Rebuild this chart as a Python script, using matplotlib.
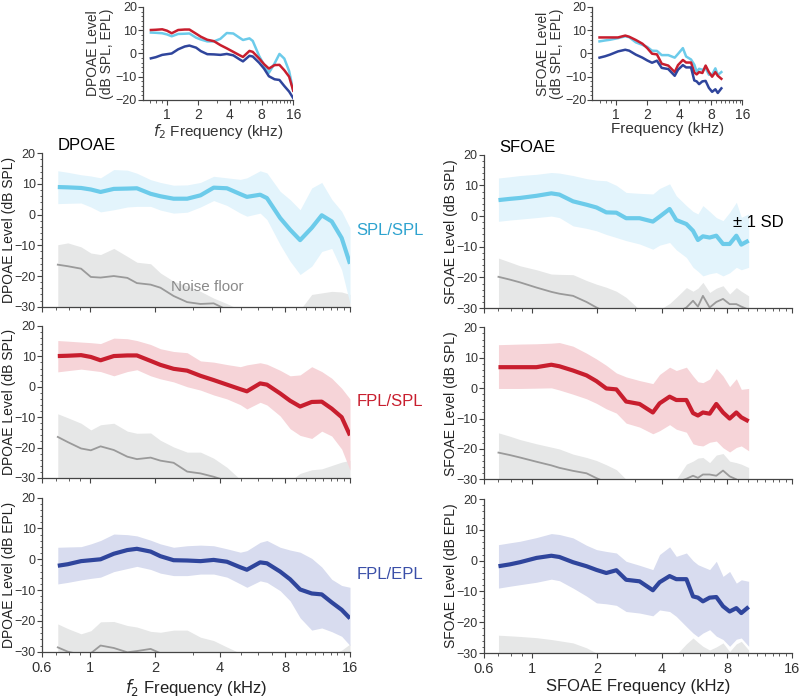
import numpy as np
import matplotlib
matplotlib.use("Agg")
import matplotlib.pyplot as plt
from matplotlib.ticker import FixedLocator, NullFormatter, MultipleLocator

plt.rcParams["font.family"] = ["Liberation Sans", "DejaVu Sans"]

# frequency grids (kHz)
F_DP = [0.71, 0.79, 0.91, 1.01, 1.12, 1.29, 1.49, 1.65, 1.91, 2.12, 2.44, 2.82, 3.25, 3.74,
        4.31, 4.97, 5.33, 6.14, 6.60, 7.60, 8.45, 9.40, 10.64, 11.84, 13.17, 14.64, 16.0]
F_SF = [0.70, 0.79, 0.88, 1.05, 1.23, 1.34, 1.55, 1.79, 1.99, 2.21, 2.46, 2.73, 3.15, 3.63,
        3.90, 4.34, 4.66, 5.19, 5.57, 5.87, 6.19, 6.65, 7.14, 7.67, 8.23, 8.84, 9.32, 10.08]

# DPOAE, SPL/SPL
dp_spl_mean = [9.0, 8.9, 8.7, 8.2, 7.4, 8.4, 8.5, 8.6, 6.8, 6.0, 5.2, 5.2, 6.3, 8.8,
               8.6, 6.7, 5.8, 6.5, 5.4, -1.1, -4.9, -8.3, -4.3, -0.2, -2.2, -7.6, -16.0]
dp_spl_hi = [14.3, 13.8, 13.0, 12.6, 12.0, 14.7, 14.5, 13.5, 11.4, 10.5, 9.6, 9.7, 10.5, 12.5,
             12.0, 11.5, 12.0, 14.3, 13.6, 7.6, 4.9, 1.6, 8.7, 10.5, 5.0, 1.1, -4.3]
dp_spl_lo = [3.6, 3.7, 3.8, 2.5, 0.9, 1.6, 2.5, 2.7, 2.7, 1.5, 0.5, 0.8, 2.5, 4.6,
             3.0, 0.5, -0.5, 0.5, -1.6, -9.8, -15.2, -19.5, -16.8, -12.0, -11.0, -18.0, -29.0]
dp_spl_nf_hi = [-9.8, -9.2, -10.5, -12.5, -13.0, -11.0, -13.6, -15.5, -16.0, -19.0, -21.7, -23.2, -25.0, -27.2,
                -29.0, -31.0, -32.0, -33.0, -34.0, -34.0, -33.0, -31.0, -26.0, -25.5, -25.0, -25.2, -26.0]
dp_spl_nf = [-16.3, -16.8, -17.6, -20.3, -20.5, -20.0, -20.6, -22.3, -22.8, -23.8, -26.5, -28.5, -29.1, -28.9,
             -31.0, -33.0, -34.0, -35.0, -35.0, -35.0, -35.0, -34.0, -32.0, -31.0, -31.0, -31.0, -31.0]

# DPOAE, FPL/SPL
dp_fpl_mean = [10.1, 10.2, 10.4, 9.8, 8.7, 10.1, 10.3, 10.3, 8.5, 7.2, 5.9, 5.3, 3.6, 2.2,
               0.7, -0.8, -1.5, 1.1, 0.7, -2.2, -4.6, -6.5, -5.0, -4.9, -7.2, -10.0, -16.0]
dp_fpl_hi = [15.2, 15.0, 14.7, 14.5, 14.2, 16.0, 15.8, 15.2, 13.9, 12.5, 11.6, 11.2, 8.5, 8.1,
             7.3, 6.6, 7.2, 7.9, 7.4, 5.4, 3.6, 3.9, 6.6, 5.0, 2.8, -0.5, -4.0]
dp_fpl_lo = [4.9, 5.3, 5.8, 5.4, 5.0, 3.6, 5.0, 5.6, 3.6, 2.6, 1.6, 0.0, -1.1, -2.7,
             -4.0, -5.9, -7.3, -5.1, -6.0, -9.6, -13.8, -16.0, -17.0, -14.6, -16.2, -20.5, -27.4]
dp_fpl_nf_hi = [-8.9, -10.2, -12.0, -14.2, -12.5, -12.0, -14.6, -15.3, -15.2, -17.6, -19.8, -21.5, -21.5, -23.5,
                -26.5, -30.5, -32.0, -33.0, -33.0, -32.0, -31.0, -28.5, -27.3, -27.0, -25.9, -24.8, -24.2]
dp_fpl_nf = [-16.5, -18.2, -20.3, -20.9, -19.6, -20.8, -23.0, -23.8, -23.3, -24.3, -25.0, -27.9, -28.5, -29.6,
             -31.0, -33.0, -33.0, -33.0, -33.0, -33.0, -33.0, -33.0, -33.0, -33.0, -33.0, -33.0, -33.0]

# DPOAE, FPL/EPL
dp_epl_mean = [-2.1, -1.6, -0.6, -0.3, 0.0, 1.8, 3.0, 3.4, 2.5, 1.0, -0.3, -0.4, -0.6, -0.2,
               -0.8, -2.6, -3.4, -1.0, -1.3, -4.0, -6.5, -9.8, -11.1, -11.4, -14.0, -16.4, -19.2]
dp_epl_hi = [3.9, 4.0, 4.1, 5.0, 6.1, 8.2, 8.0, 7.6, 6.2, 5.0, 3.9, 4.4, 4.6, 4.4,
             3.4, 2.3, 2.8, 5.5, 6.1, 3.9, 3.0, 2.3, 0.3, -2.5, -6.5, -8.5, -9.1]
dp_epl_lo = [-8.0, -7.5, -6.7, -6.2, -5.8, -4.0, -3.0, -2.3, -3.3, -4.5, -5.3, -5.3, -4.8, -4.8,
             -5.8, -8.0, -9.1, -7.0, -7.5, -10.2, -13.5, -19.0, -23.0, -22.3, -23.5, -25.0, -28.0]
dp_epl_nf_hi = [-21.0, -22.5, -24.2, -23.2, -20.3, -20.2, -21.5, -22.0, -23.4, -23.7, -23.0, -23.0, -25.3, -26.4,
                -28.5, -30.5, -32.0, -33.0, -33.0, -33.0, -33.0, -33.0, -33.0, -32.0, -31.0, -29.5, -27.5]
dp_epl_nf = [-28.6, -30.0, -31.0, -30.5, -28.0, -28.8, -30.2, -29.8, -29.1, -30.5, -32.0, -33.0, -33.0, -33.0,
             -33.0, -33.0, -33.0, -33.0, -33.0, -33.0, -33.0, -33.0, -33.0, -33.0, -33.0, -33.0, -33.0]

# SFOAE, SPL/SPL
sf_spl_mean = [5.2, 5.6, 5.9, 6.6, 7.4, 7.0, 4.8, 3.7, 2.8, 1.2, 1.1, -0.7, -0.7, -1.8,
               -0.2, 2.3, -1.3, -2.6, -4.8, -7.8, -6.6, -7.0, -6.4, -9.1, -9.1, -6.4, -9.3, -8.0]
sf_spl_hi = [12.4, 12.8, 13.2, 13.6, 14.2, 14.0, 13.2, 12.2, 11.7, 11.5, 10.0, 7.7, 7.4, 7.2,
             9.0, 10.5, 6.6, 3.4, 1.5, 0.7, 3.4, 1.5, -0.5, -1.5, 1.2, 4.5, -0.4, 0.7]
sf_spl_lo = [-1.7, -1.3, -1.0, -0.5, 0.0, -0.5, -3.2, -4.0, -4.8, -6.0, -7.0, -8.0, -9.1, -10.8,
             -9.5, -8.6, -11.0, -13.5, -16.7, -18.0, -19.5, -18.8, -18.4, -19.5, -18.5, -16.7, -17.5, -16.7]
sf_spl_nf_hi = [-13.7, -15.0, -16.2, -17.5, -18.9, -19.0, -19.1, -21.0, -22.2, -23.2, -24.5, -26.5, -30.5, -31.5,
                -30.5, -28.5, -26.5, -23.3, -24.5, -23.5, -21.6, -24.9, -23.5, -22.7, -25.4, -23.3, -24.5, -26.0]
sf_spl_nf = [-19.8, -20.7, -21.6, -23.3, -24.7, -25.3, -26.0, -28.0, -29.8, -31.4, -33.0, -34.0, -35.0, -35.0,
             -34.0, -33.0, -31.5, -29.8, -27.6, -29.5, -26.0, -29.8, -28.0, -27.0, -28.7, -28.7, -29.5, -30.5]

# SFOAE, FPL/SPL
sf_fpl_mean = [6.9, 6.9, 6.9, 6.9, 7.7, 7.2, 5.8, 4.2, 2.3, -0.1, -0.4, -4.4, -5.2, -8.0,
               -5.0, -2.8, -3.9, -3.9, -8.2, -9.0, -8.0, -8.4, -5.2, -8.0, -10.0, -8.0, -9.6, -10.9]
sf_fpl_hi = [14.3, 14.4, 14.5, 14.6, 14.8, 15.0, 13.8, 11.5, 9.6, 7.5, 5.0, 3.7, 2.5, 1.5,
             4.5, 6.9, 5.8, 6.9, 4.0, 2.1, 1.8, 3.0, 6.5, 4.0, 0.5, 3.1, -0.4, -0.1]
sf_fpl_lo = [-0.1, -0.1, -0.1, 0.0, 0.1, -0.6, -2.0, -3.5, -5.0, -6.8, -8.2, -11.5, -12.8, -15.0,
             -14.0, -12.0, -13.5, -14.5, -18.3, -18.8, -19.0, -17.8, -17.4, -19.6, -21.0, -19.5, -19.0, -20.6]
sf_fpl_nf_hi = [-14.7, -15.8, -16.9, -18.3, -19.4, -20.0, -21.7, -22.8, -23.8, -25.2, -26.8, -30.0, -32.0, -33.0,
                -32.5, -31.5, -30.0, -25.0, -24.0, -23.0, -22.8, -24.5, -22.0, -21.5, -24.0, -24.5, -25.0, -26.1]
sf_fpl_nf = [-21.2, -22.0, -22.8, -24.2, -25.4, -26.2, -27.2, -28.0, -29.6, -31.0, -32.0, -33.0, -33.0, -33.0,
             -33.0, -32.0, -31.0, -29.8, -28.8, -29.5, -28.4, -28.4, -28.8, -27.1, -29.0, -30.0, -31.0, -32.0]

# SFOAE, FPL/EPL
sf_epl_mean = [-1.8, -1.2, -0.5, 0.9, 1.6, 1.2, -0.5, -1.8, -3.0, -4.0, -3.1, -6.2, -6.7, -9.6,
               -7.0, -5.0, -6.0, -6.0, -11.6, -12.0, -13.2, -12.0, -11.8, -14.8, -16.5, -15.4, -17.0, -15.0]
sf_epl_hi = [5.2, 5.8, 6.3, 7.5, 8.8, 8.5, 7.4, 5.0, 3.6, 3.0, 2.5, -0.2, -1.5, -2.9,
             2.0, 4.5, 1.4, 2.5, 0.0, -1.3, -2.0, -2.9, -0.2, -5.1, -3.5, -7.3, -6.2, -6.7]
sf_epl_lo = [-8.9, -8.3, -7.8, -7.0, -6.0, -6.5, -8.9, -11.5, -13.7, -14.0, -14.5, -16.5, -17.0, -17.9,
             -16.0, -16.5, -18.1, -21.4, -23.5, -24.7, -23.5, -22.4, -24.5, -25.6, -27.8, -25.5, -25.1, -27.8]
sf_epl_nf_hi = [-24.2, -24.4, -24.6, -25.0, -25.6, -26.0, -26.7, -28.3, -30.0, -31.0, -32.0, -32.0, -32.0, -32.0,
                -32.0, -31.5, -30.5, -27.0, -25.1, -26.5, -27.8, -29.0, -28.0, -26.7, -29.5, -27.0, -26.2, -29.0]
sf_epl_nf = [-33.0] * len(F_SF)

COLORS = {
    "cyan": ("#6ccbea", "#e3f4fc", "#2ea3cf"),
    "red": ("#c81e2e", "#f6d4d8", "#c81e2e"),
    "blue": ("#2f459c", "#d8dcef", "#3a4fa8"),
}
NF_FILL = "#e6e7e7"
NF_LINE = "#9a9a9a"
AX_COL = "#444444"


def style_axis(ax, xlabels=True, small=False):
    ax.set_xscale("log")
    ax.set_xlim(0.6, 16)
    ax.spines["top"].set_visible(False)
    ax.spines["right"].set_visible(False)
    for s in ("left", "bottom"):
        ax.spines[s].set_color(AX_COL)
        ax.spines[s].set_linewidth(0.9)
    fs = 9.0
    if small:
        ax.xaxis.set_major_locator(FixedLocator([1, 2, 4, 8, 16]))
    else:
        ax.xaxis.set_major_locator(FixedLocator([0.6, 1, 2, 4, 8, 16]))
    minors = [0.7, 0.8, 0.9, 3, 5, 6, 7, 9, 10, 11, 12, 13, 14, 15]
    ax.xaxis.set_minor_locator(FixedLocator(minors))
    ax.xaxis.set_minor_formatter(NullFormatter())
    if xlabels:
        ax.set_xticklabels(["%g" % t for t in ax.get_xticks()])
    else:
        ax.set_xticklabels([])
    ax.yaxis.set_minor_locator(MultipleLocator(2))
    ax.tick_params(which="major", direction="out", length=3.5, width=0.8,
                   color=AX_COL, labelsize=fs, labelcolor="#333333", pad=1.0)
    ax.tick_params(axis="x", which="major", labelsize=fs + 1.5, pad=3)
    ax.tick_params(which="minor", direction="out", length=1.8, width=0.6, color=AX_COL)


def main_panel(ax, f, mean, lo, hi, nf_hi, nf, col, ylabel, xlabel=None):
    line_c, band_c, _ = COLORS[col]
    ax.fill_between(f, nf_hi, -40, color=NF_FILL, lw=0)
    ax.plot(f, nf, color=NF_LINE, lw=1.3, solid_joinstyle="round")
    ax.fill_between(f, lo, hi, color=band_c, lw=0)
    ax.plot(f, mean, color=line_c, lw=3.0, solid_capstyle="butt", solid_joinstyle="round")
    ax.set_ylim(-30, 20)
    ax.set_yticks([-30, -20, -10, 0, 10, 20])
    style_axis(ax, xlabels=xlabel is not None)
    ax.set_ylabel(ylabel, fontsize=10, color="#222222")
    ax.yaxis.set_label_coords(-0.085, 0.5)
    if xlabel:
        ax.set_xlabel(xlabel, fontsize=12, color="#222222", labelpad=2)


fig = plt.figure(figsize=(8, 6.99), dpi=100)

# main panels
left_x, right_x, w = 0.0525, 0.605, 0.385
rows = [(0.5612, 0.2195), (0.3162, 0.2175), (0.0677, 0.2203)]

dp_sets = [
    (dp_spl_mean, dp_spl_lo, dp_spl_hi, dp_spl_nf_hi, dp_spl_nf, "cyan", "DPOAE Level (dB SPL)"),
    (dp_fpl_mean, dp_fpl_lo, dp_fpl_hi, dp_fpl_nf_hi, dp_fpl_nf, "red", "DPOAE Level (dB SPL)"),
    (dp_epl_mean, dp_epl_lo, dp_epl_hi, dp_epl_nf_hi, dp_epl_nf, "blue", "DPOAE Level (dB EPL)"),
]
sf_sets = [
    (sf_spl_mean, sf_spl_lo, sf_spl_hi, sf_spl_nf_hi, sf_spl_nf, "cyan", "SFOAE Level (dB SPL)"),
    (sf_fpl_mean, sf_fpl_lo, sf_fpl_hi, sf_fpl_nf_hi, sf_fpl_nf, "red", "SFOAE Level (dB SPL)"),
    (sf_epl_mean, sf_epl_lo, sf_epl_hi, sf_epl_nf_hi, sf_epl_nf, "blue", "SFOAE Level (dB EPL)"),
]
names = ["SPL/SPL", "FPL/SPL", "FPL/EPL"]

dp_axes, sf_axes = [], []
for i, (b, h) in enumerate(rows):
    ax = fig.add_axes([left_x, b, w, h])
    m, lo, hi, nh, nf, col, yl = dp_sets[i]
    main_panel(ax, F_DP, m, lo, hi, nh, nf, col, yl,
               xlabel="$f_2$ Frequency (kHz)" if i == 2 else None)
    dp_axes.append(ax)

    ax2 = fig.add_axes([right_x, b - 0.002, w, h])
    m, lo, hi, nh, nf, col, yl = sf_sets[i]
    main_panel(ax2, F_SF, m, lo, hi, nh, nf, col, yl,
               xlabel="SFOAE Frequency (kHz)" if i == 2 else None)
    sf_axes.append(ax2)

    fig.text(0.4875, b + h * 0.50, names[i], color=COLORS[col][2], fontsize=12,
             ha="center", va="center")

dp_axes[0].text(0.05, 1.0, "DPOAE", transform=dp_axes[0].transAxes, fontsize=12,
                va="bottom", ha="left")
sf_axes[0].text(0.05, 1.0, "SFOAE", transform=sf_axes[0].transAxes, fontsize=12,
                va="bottom", ha="left")
sf_axes[0].text(0.81, 0.555, "± 1 SD", transform=sf_axes[0].transAxes, fontsize=12,
                va="center", ha="left")
dp_axes[0].text(0.42, 0.13, "Noise floor", transform=dp_axes[0].transAxes, fontsize=11,
                color="#8a8a8a", va="center", ha="left")

# insets
inset_specs = [
    (0.179, F_DP, [dp_spl_mean, dp_fpl_mean, dp_epl_mean], "DPOAE Level\n(dB SPL, EPL)",
     "$f_2$ Frequency (kHz)"),
    (0.7406, F_SF, [sf_spl_mean, sf_fpl_mean, sf_epl_mean], "SFOAE Level\n(dB SPL, EPL)",
     "Frequency (kHz)"),
]
for x0, f, means, yl, xl in inset_specs:
    ax = fig.add_axes([x0, 0.857, 0.1875, 0.133])
    for m, col in zip(means, ["cyan", "red", "blue"]):
        ax.plot(f, m, color=COLORS[col][0], lw=1.8, solid_joinstyle="round")
    ax.set_ylim(-20, 20)
    ax.set_yticks([-20, -10, 0, 10, 20])
    style_axis(ax, xlabels=True, small=True)
    ax.tick_params(axis="x", which="major", labelsize=10, pad=2)
    ax.set_ylabel(yl, fontsize=10, color="#333333", labelpad=1, linespacing=1.0)
    ax.set_xlabel(xl, fontsize=11, color="#333333", labelpad=0)

fig.savefig("out.png", dpi=100)
